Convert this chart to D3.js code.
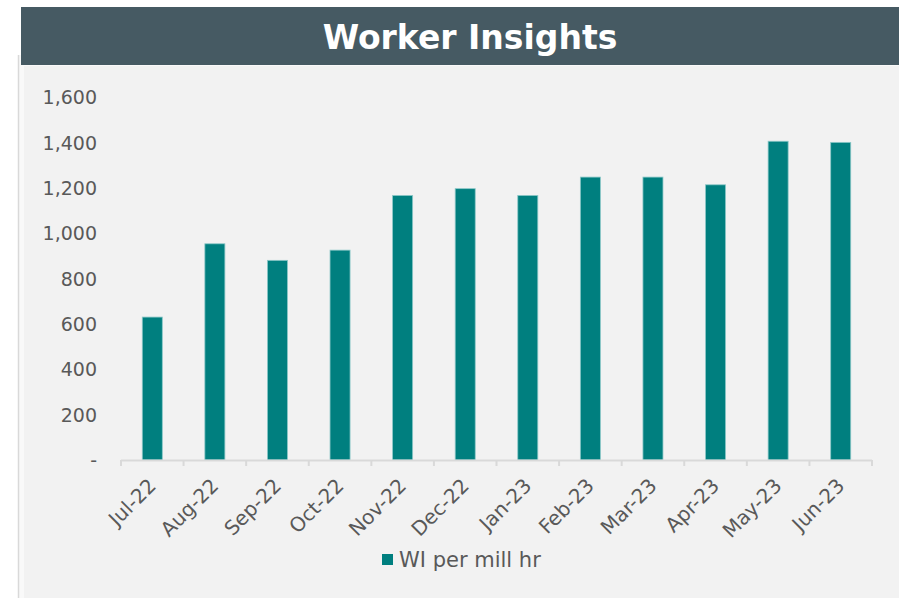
<!DOCTYPE html>
<html>
<head>
<meta charset="utf-8">
<script src="https://cdn.jsdelivr.net/npm/d3@7"></script>
<style>
html,body{margin:0;padding:0;background:#ffffff;}
svg{display:block;}
</style>
</head>
<body>
<svg id="chart" width="899" height="598"></svg>
<script>
const title = "Worker Insights";
const categories = ["Jul-22","Aug-22","Sep-22","Oct-22","Nov-22","Dec-22","Jan-23","Feb-23","Mar-23","Apr-23","May-23","Jun-23"];
const seriesName = "WI per mill hr";
const values = [630, 953, 880, 925, 1166, 1196, 1166, 1247, 1247, 1213, 1405, 1400];
const yTicks = [0, 200, 400, 600, 800, 1000, 1200, 1400, 1600];

const svg = d3.select("#chart");
const W = 899, H = 598;
const font = "'DejaVu Sans', Verdana, sans-serif";

// panel background
svg.append("rect").attr("x", 19).attr("y", 55).attr("width", W - 19).attr("height", H - 55).attr("fill", "#f9f9f9");
svg.append("line").attr("x1", 18.5).attr("x2", 18.5).attr("y1", 55).attr("y2", H).attr("stroke", "#d9d9d9").attr("stroke-width", 1.5);
svg.append("rect").attr("x", 24).attr("y", 66).attr("width", W - 24).attr("height", H - 66).attr("fill", "#f2f2f2");

// title band
svg.append("rect").attr("x", 21).attr("y", 7).attr("width", W - 21).attr("height", 58).attr("fill", "#465a63");
svg.append("text").attr("x", 470).attr("y", 49)
  .attr("text-anchor", "middle").attr("fill", "#ffffff")
  .attr("font-family", font).attr("font-weight", "bold").attr("font-size", 33)
  .text(title);

const plot = {left: 121, right: 872, top: 97, bottom: 460};

const x = d3.scaleBand().domain(categories).range([plot.left, plot.right]).paddingInner(0.68).paddingOuter(0.34);
const y = d3.scaleLinear().domain([0, 1600]).range([plot.bottom, plot.top]);

// bars
svg.append("g").selectAll("rect").data(values).join("rect")
  .attr("x", (d, i) => x(categories[i]))
  .attr("y", d => y(d))
  .attr("width", x.bandwidth())
  .attr("height", d => y(0) - y(d))
  .attr("fill", "#007f7f")
  .attr("stroke", "#8cc8c8").attr("stroke-width", 0.8);

// y axis labels
const yAxis = d3.axisLeft(y).tickValues(yTicks).tickSize(0).tickPadding(0)
  .tickFormat(d => d === 0 ? "-" : d3.format(",")(d));
const gy = svg.append("g").attr("transform", "translate(97,0)").call(yAxis);
gy.select(".domain").remove();
gy.selectAll("text").attr("font-family", font).attr("font-size", 19).attr("fill", "#595959").attr("dy", "0.35em");

// x axis
const step = (plot.right - plot.left) / categories.length;
const gx = svg.append("g").attr("transform", `translate(0,${plot.bottom})`);
gx.append("line").attr("x1", plot.left).attr("x2", plot.right).attr("y1", 0.5).attr("y2", 0.5)
  .attr("stroke", "#d9d9d9").attr("stroke-width", 2);
const tickEdges = d3.range(categories.length + 1).map(i => plot.left + i * step);
gx.selectAll("line.tick").data(tickEdges).join("line").attr("class", "tick")
  .attr("x1", d => d).attr("x2", d => d).attr("y1", 0).attr("y2", 6)
  .attr("stroke", "#d9d9d9").attr("stroke-width", 2);

const xAxis = d3.axisBottom(x).tickSize(0).tickPadding(0);
const gxa = svg.append("g").attr("transform", `translate(0,${plot.bottom})`).call(xAxis);
gxa.select(".domain").remove();
gxa.selectAll("text")
  .attr("font-family", font).attr("font-size", 20).attr("fill", "#595959")
  .attr("text-anchor", "end")
  .attr("transform", "translate(0,22) rotate(-45)")
  .attr("dy", "0.35em").attr("y", 0).attr("x", 0);

// legend
const lg = svg.append("g").attr("transform", "translate(382,554)");
lg.append("rect").attr("width", 11).attr("height", 11).attr("fill", "#007f7f");
lg.append("text").attr("x", 17).attr("y", 5.5).attr("dy", "0.36em")
  .attr("font-family", font).attr("font-size", 21).attr("fill", "#595959").text(seriesName);
</script>
</body>
</html>
